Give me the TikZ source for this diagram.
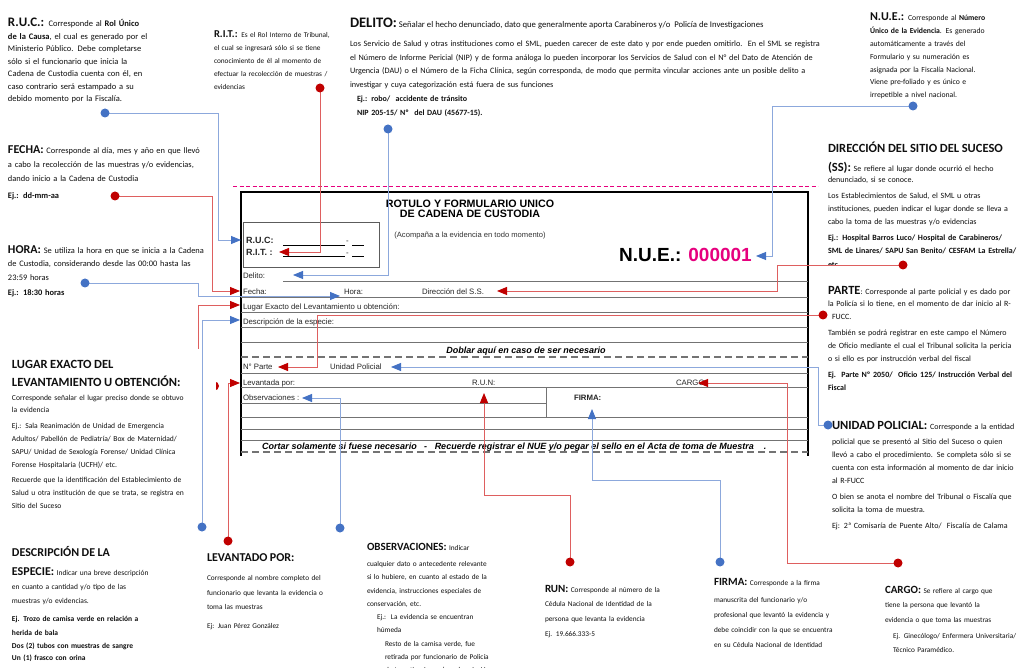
\documentclass[tikz,border=0pt]{standalone}
\usepackage{fontspec}
\setmainfont{Carlito}
\newfontfamily\arialf{Liberation Sans}
\usetikzlibrary{arrows.meta}
\definecolor{bl}{RGB}{68,114,196}
\definecolor{bll}{RGB}{140,168,220}
\definecolor{rd}{RGB}{192,0,0}
\definecolor{rdl}{RGB}{222,95,95}
\definecolor{mg}{RGB}{230,0,126}
\definecolor{tx}{RGB}{15,15,15}
\definecolor{fl}{RGB}{115,115,115}
\setlength\parindent{0pt}
\newcommand\jl[1]{\makebox[\linewidth][s]{#1}}
\newcommand\jw[2]{\makebox[#1][s]{#2}}
\newcommand\hd[2]{{\fontsize{#1}{#1}\selectfont\bfseries #2}}
\begin{document}
\begin{tikzpicture}[x=1pt,y=-1pt,
  blk/.style={anchor=base west, inner sep=0pt, outer sep=0pt, align=left, text=tx},
  ftx/.style={anchor=base west, inner sep=0pt, outer sep=0pt, text=black!85, font=\arialf\fontsize{7.8}{8}\selectfont},
  fline/.style={draw=fl, line width=0.9pt},
  fdash/.style={draw=fl, line width=1.4pt, dash pattern=on 7pt off 4pt},
  rcon/.style={draw=rdl, line width=0.9pt, -{Triangle[length=10pt,width=8pt,color=rd]}},
  bcon/.style={draw=bll, line width=0.9pt, -{Triangle[length=10pt,width=8pt,color=bl]}},
  dotr/.style={circle, fill=rd, inner sep=0pt, minimum size=9pt},
  dotb/.style={circle, fill=bl, inner sep=0pt, minimum size=9pt}]
\useasboundingbox (0,0) rectangle (1031,668);
\fill[white] (0,0) rectangle (1031,668);

% connector partly hidden behind the text box of "Lugar exacto"
\coordinate (pLUG) at (214.5,386);  \coordinate (aLUG) at (240,305);
\draw[rcon] (pLUG) -- (198,386) -- (198,305) -- (aLUG);
\node[dotr] (dLUG) at (pLUG) {};
\fill[white] (6,349) rectangle (215.5,530);

% ---------------- text blocks ----------------
\node[blk, text width=192pt, font=\fontsize{8.5}{12.5}\selectfont] (tRUC) at (8,26.5) {%
\jl{\hd{13}{R.U.C.:} Corresponde al \textbf{Rol Único}}\\[0.5pt]
\jl{\textbf{de la Causa}, el cual es generado por el}\\
\jl{Ministerio Público. Debe completarse}\\
\jl{sólo si el funcionario que inicia la}\\
\jl{Cadena de Custodia cuenta con él, en}\\
\jl{caso contrario será estampado a su}\\
debido momento por la Fiscalía.};

\begin{scope}
\clip (205,0) rectangle (350,90);
\node[blk, text width=130pt, font=\fontsize{7.3}{13}\selectfont] (tRIT) at (214,38) {%
\jl{\hd{10.5}{R.I.T.:} Es el Rol Interno de Tribunal,}\\
\jl{el cual se ingresará sólo si se tiene}\\
\jl{conocimiento de él al momento de}\\
\jl{efectuar la recolección de muestras /}\\
evidencias};
\end{scope}

\node[blk, font=\fontsize{8.7}{9}\selectfont] (tDEL) at (350,27.5) {\hd{14.5}{DELITO:} Señalar el hecho denunciado, dato que generalmente aporta Carabineros y/o\ \ Policía de Investigaciones};
\node[blk, text width=456pt, font=\fontsize{8.2}{13.5}\selectfont] (tDEL2) at (350,47) {%
\jl{Los Servicio de Salud y otras instituciones como el SML, pueden carecer de este dato y por ende pueden omitirlo.\ \ En el SML se registra}\\
\jl{el Número de Informe Pericial (NIP) y de forma análoga lo pueden incorporar los Servicios de Salud con el N° del Dato de Atención de}\\
\jl{Urgencia (DAU) o el Número de la Ficha Clínica, según corresponda, de modo que permita vincular acciones ante un posible delito a}\\
investigar y cuya categorización está fuera de sus funciones};
\node[blk, text width=200pt, font=\fontsize{8}{14}\selectfont\bfseries] (tDEL3) at (357,102) {Ej.: robo/\ \ accidente de tránsito\\ NIP 205-15/ Nº\ \ del DAU (45677-15).};

\node[blk, text width=155pt, font=\fontsize{7.7}{12.8}\selectfont] (tNUE) at (870,21) {%
\jl{\hd{12}{N.U.E.:} Corresponde al \textbf{Número}}\\
\jl{\textbf{Único de la Evidencia}. Es generado}\\
\jl{automáticamente a través del}\\
\jl{Formulario y su numeración es}\\
\jl{asignada por la Fiscalía Nacional.}\\
\jl{Viene pre-foliado y es único e}\\
irrepetible a nivel nacional.};

\node[blk, text width=197pt, font=\fontsize{8.4}{14}\selectfont] (tFEC) at (8,153.5) {%
\jl{\hd{12}{FECHA:} Corresponde al día, mes y año en que llevó}\\[0.5pt]
\jl{a cabo la recolección de las muestras y/o evidencias,}\\
dando inicio a la Cadena de Custodia\\[3pt]
\textbf{Ej.: dd-mm-aa}};

\node[blk, text width=197pt, font=\fontsize{8.4}{14}\selectfont] (tHOR) at (8,253.5) {%
\jl{\hd{12}{HORA:} Se utiliza la hora en que se inicia a la Cadena}\\[-0.5pt]
\jl{de Custodia, considerando desde las 00:00 hasta las}\\
23:59 horas\\[1pt]
\textbf{Ej.: 18:30 horas}};

\begin{scope}
\clip (820,130) rectangle (1031,266);
\node[blk, text width=197pt, font=\fontsize{8}{13}\selectfont] (tDIR) at (828,152.5) {%
\jl{\hd{12.5}{DIRECCIÓN DEL SITIO DEL SUCESO}}\\[6pt]
\jl{\hd{12.5}{(SS):} Se refiere al lugar donde ocurrió el hecho}\\[-1.5pt]
denunciado, si se conoce.\\[3pt]
\jl{Los Establecimientos de Salud, el SML u otras}\\
\jl{instituciones, pueden indicar el lugar donde se lleva a}\\
cabo la toma de las muestras y/o evidencias\\[3pt]
\jl{\textbf{Ej.: Hospital Barros Luco/ Hospital de Carabineros/}}\\
\jl{\textbf{SML de Linares/ SAPU San Benito/ CESFAM La Estrella/}}\\[1pt]
\textbf{etc.}};
\end{scope}

\node[blk, text width=197pt, font=\fontsize{8}{13}\selectfont] (tPAR) at (828,294.5) {%
\jl{\hd{12.5}{PARTE}: Corresponde al parte policial y es dado por}\\[-0.5pt]
\jl{la Policía si lo tiene, en el momento de dar inicio al R-}\\
\hspace*{4pt}FUCC.\\[3pt]
\jl{También se podrá registrar en este campo el Número}\\
\jl{de Oficio mediante el cual el Tribunal solicita la pericia}\\
o si ello es por instrucción verbal del fiscal\\[3pt]
\jl{\textbf{Ej.\ \ Parte Nº 2050/\ \ Oficio 125/ Instrucción Verbal del}}\\
\textbf{Fiscal}};

\node[blk, text width=193pt, font=\fontsize{8}{13}\selectfont] (tUNI) at (832,429.5) {%
\jl{\hd{12.5}{UNIDAD POLICIAL:} Corresponde a la entidad}\\[1.5pt]
\jl{policial que se presentó al Sitio del Suceso o quien}\\
\jl{llevó a cabo el procedimiento. Se completa sólo si se}\\
\jl{cuenta con esta información al momento de dar inicio}\\
al R-FUCC\\[3pt]
\jl{O bien se anota el nombre del Tribunal o Fiscalía que}\\
solicita la toma de muestra.\\[3pt]
Ej: 2ª Comisaría de Puente Alto/\ \ Fiscalía de Calama};

\node[blk, text width=193pt, font=\fontsize{7.6}{12.8}\selectfont] (tLUG) at (12,368.5) {%
\jw{196pt}{\hd{12.5}{LUGAR EXACTO DEL}}\\[5.5pt]
\jw{201pt}{\hd{12.5}{LEVANTAMIENTO U OBTENCIÓN:}}\\[0.5pt]
\jl{Corresponde señalar el lugar preciso donde se obtuvo}\\
la evidencia\\[3pt]
\jl{Ej.: Sala Reanimación de Unidad de Emergencia}\\
\jl{Adultos/ Pabellón de Pediatría/ Box de Maternidad/}\\
\jl{SAPU/ Unidad de Sexología Forense/ Unidad Clínica}\\
Forense Hospitalaria (UCFH)/ etc.\\[3pt]
\jl{Recuerde que la identificación del Establecimiento de}\\
\jl{Salud u otra institución de que se trata, se registra en}\\
Sitio del Suceso};

\node[blk, text width=173pt, font=\fontsize{7.5}{14}\selectfont] (tDES) at (12,556) {%
\jl{\hd{12}{DESCRIPCIÓN DE LA}}\\[5pt]
\jl{\hd{12}{ESPECIE:} Indicar una breve descripción}\\
\jl{en cuanto a cantidad y/o tipo de las}\\
muestras y/o evidencias.\\[4pt]
\jl{\textbf{Ej. Trozo de camisa verde en relación a}}\\
\textbf{herida de bala}\\[-1pt]
\textbf{Dos (2) tubos con muestras de sangre}\\[-2pt]
\textbf{Un (1) frasco con orina}};

\node[blk, text width=138pt, font=\fontsize{7.3}{14.5}\selectfont] (tLEV) at (207,561) {%
\jl{\hd{12}{LEVANTADO POR:}}\\[5pt]
\jl{Corresponde al nombre completo del}\\
\jl{funcionario que levanta la evidencia o}\\
toma las muestras\\[4pt]
Ej: Juan Pérez González};

\node[blk, text width=160pt, font=\fontsize{7.3}{13.5}\selectfont] (tOBS) at (367,550) {%
\jl{\hd{11}{OBSERVACIONES:} Indicar}\\[2.5pt]
\jl{cualquier dato o antecedente relevante}\\
\jl{si lo hubiere, en cuanto al estado de la}\\
\jl{evidencia, instrucciones especiales de}\\
conservación, etc.};
\node[blk, text width=150pt, font=\fontsize{7.3}{13}\selectfont] (tOBS2) at (377,619) {%
\jl{Ej.:\ \ La evidencia se encuentran}\\
húmeda};
\node[blk, text width=142pt, font=\fontsize{7.3}{13}\selectfont] (tOBS3) at (385,646.5) {%
\jl{Resto de la camisa verde, fue}\\
\jl{retirada por funcionario de Policía}\\
\jl{de Investigaciones (ver descripción}};

\node[blk, text width=160pt, font=\fontsize{7.3}{14.5}\selectfont] (tRUN) at (545,592) {%
\jl{\hd{11}{RUN:} Corresponde al número de la}\\
\jl{Cédula Nacional de Identidad de la}\\
persona que levanta la evidencia\\[1pt]
Ej. 19.666.333-5};

\node[blk, text width=156pt, font=\fontsize{7.3}{15}\selectfont] (tFIR) at (714,585) {%
\jl{\hd{11}{FIRMA:} Corresponde a la firma}\\[2pt]
\jl{manuscrita del funcionario y/o}\\
\jl{profesional que levantó la evidencia y}\\
\jl{debe coincidir con la que se encuentra}\\
en su Cédula Nacional de Identidad};

\node[blk, text width=143pt, font=\fontsize{7.3}{14.5}\selectfont] (tCAR) at (885,593) {%
\jl{\hd{11}{CARGO:} Se refiere al cargo que}\\
\jl{tiene la persona que levantó la}\\
evidencia o que toma las muestras\\[1.5pt]
\hspace*{8pt}Ej. Ginecólogo/ Enfermera Universitaria/\\
\hspace*{8pt}Técnico Paramédico.};

% ---------------- form ----------------
\draw[mg, line width=1pt, dash pattern=on 4pt off 2.5pt] (233,187) -- (818,187);
\draw[black, line width=2.6pt] (241,456) -- (241,192) -- (808,192) -- (808,456);
\draw[draw=fl!80!black, line width=1pt] (243,223) rectangle (379,268);
\draw[fline] (283,281) -- (808,281);
\foreach \yy in {297,312,327,342,373,387,417,429,440}{\draw[fline] (241,\yy) -- (808,\yy);}
\draw[fline] (241,403) -- (546,403);
\draw[fline] (546,387) -- (546,417);
\draw[fdash] (241,357) -- (808,357);
\draw[fdash] (241,452) -- (808,452);

\node[ftx, font=\arialf\fontsize{9}{10}\selectfont\bfseries] (fRUC) at (246,244) {R.U.C:};
\node[ftx, font=\arialf\fontsize{9}{10}\selectfont\bfseries] (fRIT) at (246,255.5) {R.I.T. :};
\draw[black, line width=0.7pt] (283,245) -- (345,245) (352,245) -- (364,245);
\draw[black, line width=0.7pt] (283,256.5) -- (345,256.5) (352,256.5) -- (364,256.5);
\node[ftx] (fd1) at (346,244) {-};
\node[ftx] (fd2) at (346,255.5) {-};
\node[anchor=base, inner sep=0pt, align=center, font=\arialf\fontsize{10.7}{10.5}\selectfont\bfseries] (fTit) at (470,218) {ROTULO Y FORMULARIO UNICO\\DE CADENA DE CUSTODIA};
\node[anchor=base, inner sep=0pt, font=\arialf\fontsize{7.6}{8}\selectfont, text=black!80] (fSub) at (470,237.5) {(Acompaña a la evidencia en todo momento)};
\node[anchor=base east, inner sep=0pt, font=\arialf\fontsize{19}{20}\selectfont\bfseries] (fNUE) at (752,262) {N.U.E.: \textcolor{mg}{000001}};

\node[ftx] (fDel) at (243,278.5) {Delito:};
\node[ftx] (fFec) at (243,294.5) {Fecha:};
\node[ftx] (fHor) at (344,294.5) {Hora:};
\node[ftx] (fDir) at (422,294.5) {Dirección del S.S.};
\node[ftx] (fLug) at (243,309.5) {Lugar Exacto del Levantamiento u obtención:};
\node[ftx] (fDes) at (243,324.5) {Descripción de la especie:};
\node[anchor=base, inner sep=0pt, font=\arialf\fontsize{9}{9}\selectfont\bfseries\itshape] (fDob) at (526,353.5) {Doblar aquí en caso de ser necesario};
\node[ftx] (fPar) at (243,369.5) {N° Parte};
\node[ftx] (fUni) at (330,369.5) {Unidad Policial};
\node[ftx] (fLev) at (243,385) {Levantada por:};
\node[ftx] (fRun) at (472,385) {R.U.N:};
\node[ftx] (fCar) at (676,385) {CARGO:};
\node[ftx] (fObs) at (243,400.5) {Observaciones :};
\node[ftx, font=\arialf\fontsize{7.8}{8}\selectfont\bfseries] (fFir) at (574,400.5) {FIRMA:};
\node[anchor=base west, inner sep=0pt, font=\arialf\fontsize{9}{9}\selectfont\bfseries\itshape] (fCor) at (262,449.5) {Cortar solamente si fuese necesario\ \ \ -\ \ \ Recuerde registrar el NUE y/o pegar el sello en el Acta de toma de Muestra\ \ \ \ .};

% ---------------- connectors ----------------
\coordinate (pRUC) at (105,113);  \coordinate (aRUC) at (241,240);
\coordinate (pRIT) at (320,88);   \coordinate (aRIT) at (279,252);
\coordinate (pDEL) at (388,129);  \coordinate (aDEL) at (293,275);
\coordinate (pNUE) at (913,106);  \coordinate (aNUE) at (756,256);
\coordinate (pFEC) at (115,196);  \coordinate (aFEC) at (240,291);
\coordinate (pHOR) at (85,283);   \coordinate (aHOR) at (340,296);
\coordinate (pDES) at (202,527);  \coordinate (aDES) at (240,320);
\coordinate (pLEV) at (228,541);  \coordinate (aLEV) at (240,383);
\coordinate (pOBS) at (340,528);  \coordinate (aOBS) at (302,398);
\coordinate (pRUN) at (570,562);  \coordinate (aRUN) at (484,393);
\coordinate (pFIR) at (720,562);  \coordinate (aFIR) at (592,409);
\coordinate (pCAR) at (898,563);  \coordinate (aCAR) at (698,383);
\coordinate (pDIR) at (903,265);  \coordinate (aDIR) at (497,291);
\coordinate (pPAR) at (823,315);  \coordinate (aPAR) at (278,367);
\coordinate (pUNI) at (828,425);  \coordinate (aUNI) at (391,367);

\draw[bcon] (pRUC) -- (218,113) -- (218,240) -- (aRUC);
\draw[rcon] (pRIT) -- (320,252) -- (aRIT);
\draw[bcon] (pDEL) -- (388,275) -- (aDEL);
\draw[bcon] (pNUE) -- (772,106) -- (772,256) -- (aNUE);
\draw[rcon] (pFEC) -- (212,196) -- (212,291) -- (aFEC);
\draw[bcon] (pHOR) -- (198,283) -- (198,296) -- (aHOR);
\draw[bcon] (pDES) -- (202,320) -- (aDES);
\draw[rcon] (pLEV) -- (228,383) -- (aLEV);
\draw[bcon] (pOBS) -- (340,398) -- (aOBS);
\draw[rcon] (pRUN) -- (570,495) -- (484,495) -- (aRUN);
\draw[bcon] (pFIR) -- (720,480) -- (592,480) -- (aFIR);
\draw[rcon] (pCAR) -- (787,563) -- (787,383) -- (aCAR);
\draw[rcon] (pDIR) -- (777,265) -- (777,291) -- (aDIR);
\draw[rcon] (pPAR) -- (317,315) -- (317,367) -- (aPAR);
\draw[bcon] (pUNI) -- (818,425) -- (818,367) -- (aUNI);

\foreach \p in {RUC,DEL,NUE,HOR,DES,OBS,FIR,UNI}{\node[dotb] (d\p) at (p\p) {};}
\foreach \p in {RIT,FEC,LEV,RUN,CAR,DIR,PAR}{\node[dotr] (d\p) at (p\p) {};}
\end{tikzpicture}
\end{document}
